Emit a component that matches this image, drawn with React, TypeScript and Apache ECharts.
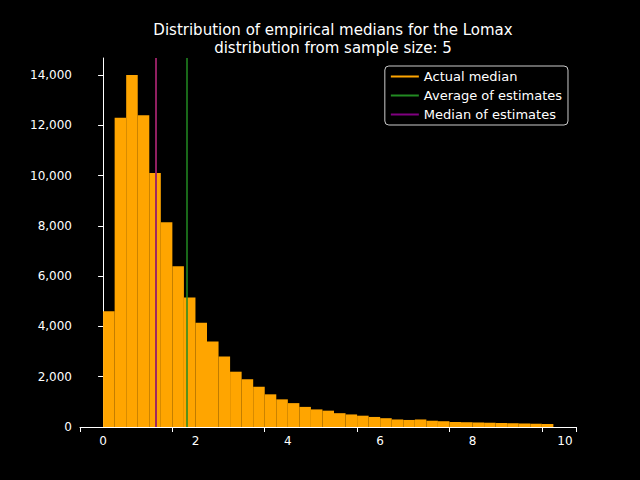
import React, { useEffect, useRef } from "react";
import * as echarts from "echarts";

const binWidth = 0.25;
const counts = [4600, 12300, 14000, 12400, 10100, 8150, 6400, 5150, 4150, 3400, 2800, 2200, 1900, 1600, 1300, 1100, 950, 800, 700, 650, 550, 500, 450, 400, 350, 300, 280, 300, 250, 230, 200, 190, 180, 170, 160, 150, 140, 130, 120];
const actualMedian = 1.15;
const averageEstimate = 1.82;
const medianEstimate = 1.15;
const xTicks = [0, 2, 4, 6, 8, 10];

export default function App() {
  const ref = useRef<HTMLDivElement>(null);
  useEffect(() => {
    const chart = echarts.init(ref.current!, null, { renderer: "svg" });
    const data = counts.map((c, i) => [i * binWidth, (i + 1) * binWidth, c]);
    const vline = (name: string, color: string, x: number) => ({
      name, type: "line", data: [], color,
      lineStyle: { color, width: 1.5 },
      markLine: { symbol: "none", silent: true, label: { show: false },
        lineStyle: { color, width: 1.5, type: "solid" }, data: [{ xAxis: x }] },
    });
    chart.setOption({
      animation: false,
      backgroundColor: "#000",
      textStyle: { fontFamily: "DejaVu Sans" },
      title: { text: "Distribution of empirical medians for the Lomax\ndistribution from sample size: 5", left: 328, textAlign: "center", top: 16,
        textStyle: { color: "#fff", fontSize: 15, fontWeight: "normal", lineHeight: 18 } },
      grid: { left: 80, right: 64, top: 58, bottom: 53 },
      legend: { right: 72, top: 66, orient: "vertical", backgroundColor: "#000", borderColor: "#ccc", borderWidth: 1, borderRadius: 4,
        padding: [4, 6, 4, 6], itemGap: 6, itemWidth: 28, itemHeight: 2,
        textStyle: { color: "#fff", fontSize: 13 },
        data: [{ name: "Actual median", icon: "rect" }, { name: "Average of estimates", icon: "rect" }, { name: "Median of estimates", icon: "rect" }] },
      xAxis: { type: "value", min: -0.5, max: 10.24, interval: 2,
        axisLine: { show: true, onZero: false, lineStyle: { color: "#fff" } },
        axisTick: { show: true, lineStyle: { color: "#fff" } }, splitLine: { show: false },
        axisLabel: { color: "#fff", fontSize: 12, customValues: xTicks },
        },
      yAxis: { type: "value", min: 0, max: 14680, interval: 2000,
        axisLine: { show: true, lineStyle: { color: "#fff" } },
        axisTick: { show: true, lineStyle: { color: "#fff" } }, splitLine: { show: false },
        axisLabel: { color: "#fff", fontSize: 12, showMaxLabel: false } },
      series: [
        vline("Actual median", "#ffa500", actualMedian),
        { type: "custom", data, z: 3,
          renderItem: (params: any, api: any) => {
            const p0 = api.coord([api.value(0), api.value(2)]);
            const p1 = api.coord([api.value(1), 0]);
            return { type: "rect", shape: { x: p0[0], y: p0[1], width: p1[0] - p0[0], height: p1[1] - p0[1] }, style: { fill: "#ffa500" } };
          } },
        { ...vline("Average of estimates", "#228b22", averageEstimate), z: 5 },
        { ...vline("Median of estimates", "#800080", medianEstimate), z: 5 },
      ],
    });
    return () => chart.dispose();
  }, []);
  return <div ref={ref} style={{ width: 640, height: 480, position: "absolute", left: 0, top: 0 }} />;
}
